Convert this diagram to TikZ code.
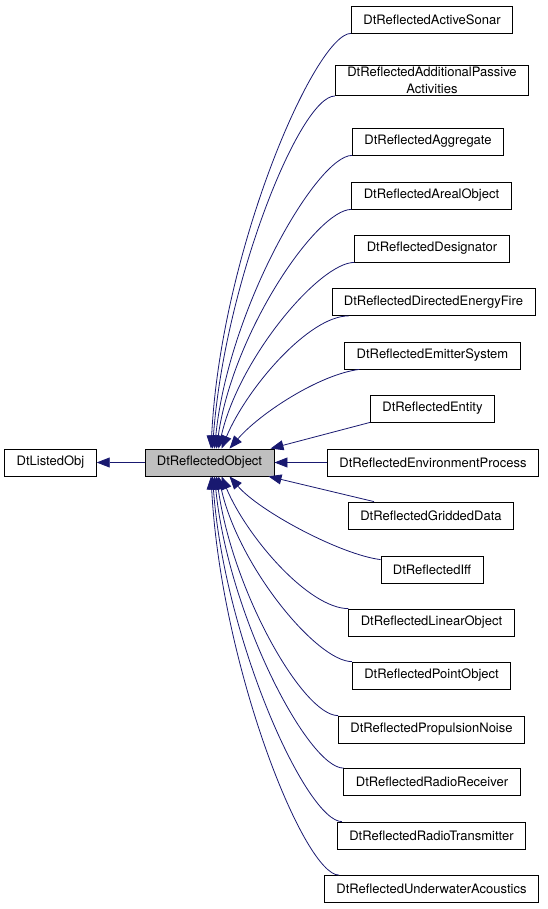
\documentclass[tikz,border=0pt]{standalone}
\usepackage{fontspec}
\setmainfont{TeX Gyre Heros}
\usepackage{tikz}
\usetikzlibrary{arrows.meta}
\usepackage{xcolor}
\definecolor{edgeblue}{HTML}{191970}
\definecolor{basegray}{HTML}{BFBFBF}

\begin{document}
\begin{tikzpicture}[x=1pt, y=-1pt,
        box/.style = {draw, line width=0.8pt, inner xsep=12pt, inner ysep=2pt,
                      minimum height=27pt, align=center,
                      font=\fontsize{13}{16.5}\selectfont},
        inherit/.style = {draw=edgeblue, line width=0.8pt,
                          -{Triangle[length=13pt, width=10pt]}, edgeblue}
        ]
        \useasboundingbox (0,0) rectangle (547,909);
        % base classes
        \node[box] (listed) at (50.5,462.5) {DtListedObj};
        \node[box, fill=basegray] (obj) at (209.5,462.5) {DtReflectedObject};
        % derived classes
        \node[box] (as) at (432,19.5) {DtReflectedActiveSonar};
        \node[box] (ap) at (432,80.5) {DtReflectedAdditionalPassive\\Activities};
        \node[box] (ag) at (428,141.5) {DtReflectedAggregate};
        \node[box] (ar) at (431.5,195.5) {DtReflectedArealObject};
        \node[box] (de) at (432,248.5) {DtReflectedDesignator};
        \node[box] (df) at (433.5,302) {DtReflectedDirectedEnergyFire};
        \node[box] (em) at (432.5,355.5) {DtReflectedEmitterSystem};
        \node[box] (en) at (432.5,408.5) {DtReflectedEntity};
        \node[box] (ev) at (433,462.5) {DtReflectedEnvironmentProcess};
        \node[box] (gd) at (431,515.5) {DtReflectedGriddedData};
        \node[box] (iff) at (432,569.5) {DtReflectedIff};
        \node[box] (lo) at (431.5,622.5) {DtReflectedLinearObject};
        \node[box] (po) at (431.5,675.5) {DtReflectedPointObject};
        \node[box] (pn) at (431.5,729.5) {DtReflectedPropulsionNoise};
        \node[box] (rr) at (432,782) {DtReflectedRadioReceiver};
        \node[box] (rt) at (431.5,835.5) {DtReflectedRadioTransmitter};
        \node[box] (ua) at (431.5,889) {DtReflectedUnderwaterAcoustics};

        \draw[inherit] (obj.west) -- (listed.east);
        % upper branch
        \draw[inherit] (as.south west) .. controls +(-35,0) and +(10,-200) .. ([xshift=1.5pt]obj.north);
        \draw[inherit] (ap.south west) .. controls +(-35,0) and +(12,-165) .. ([xshift=3pt]obj.north);
        \draw[inherit] (ag.south west) .. controls +(-35,0) and +(14,-140) .. ([xshift=5pt]obj.north);
        \draw[inherit] (ar.south west) .. controls +(-35,0) and +(16,-115) .. ([xshift=7pt]obj.north);
        \draw[inherit] (de.south west) .. controls +(-35,0) and +(20,-90) .. ([xshift=9pt]obj.north);
        \draw[inherit] ([xshift=17pt]df.south west) .. controls +(-40,0) and +(25,-60) .. ([xshift=12pt]obj.north);
        \draw[inherit] ([xshift=15pt]em.south west) .. controls +(-40,5) and +(30,-35) .. ([xshift=20pt]obj.north);
        \draw[inherit] (en.south west) -- ([xshift=-4pt]obj.north east);
        \draw[inherit] (ev.west) -- (obj.east);
        % lower branch
        \draw[inherit] ([xshift=26pt]gd.north west) -- ([xshift=-6pt]obj.south east);
        \draw[inherit] ([yshift=-4pt]iff.north west) .. controls +(-40,-5) and +(30,35) .. ([xshift=20pt]obj.south);
        \draw[inherit] (lo.north west) .. controls +(-40,0) and +(25,60) .. ([xshift=12pt]obj.south);
        \draw[inherit] (po.north west) .. controls +(-35,0) and +(20,90) .. ([xshift=9pt]obj.south);
        \draw[inherit] (pn.north west) .. controls +(-35,0) and +(16,115) .. ([xshift=7pt]obj.south);
        \draw[inherit] (rr.north west) .. controls +(-35,0) and +(14,140) .. ([xshift=5pt]obj.south);
        \draw[inherit] ([xshift=5pt]rt.north west) .. controls +(-35,0) and +(12,165) .. ([xshift=3pt]obj.south);
        \draw[inherit] ([xshift=15pt]ua.north west) .. controls +(-35,0) and +(10,190) .. ([xshift=1.5pt]obj.south);
\end{tikzpicture}
\end{document}
